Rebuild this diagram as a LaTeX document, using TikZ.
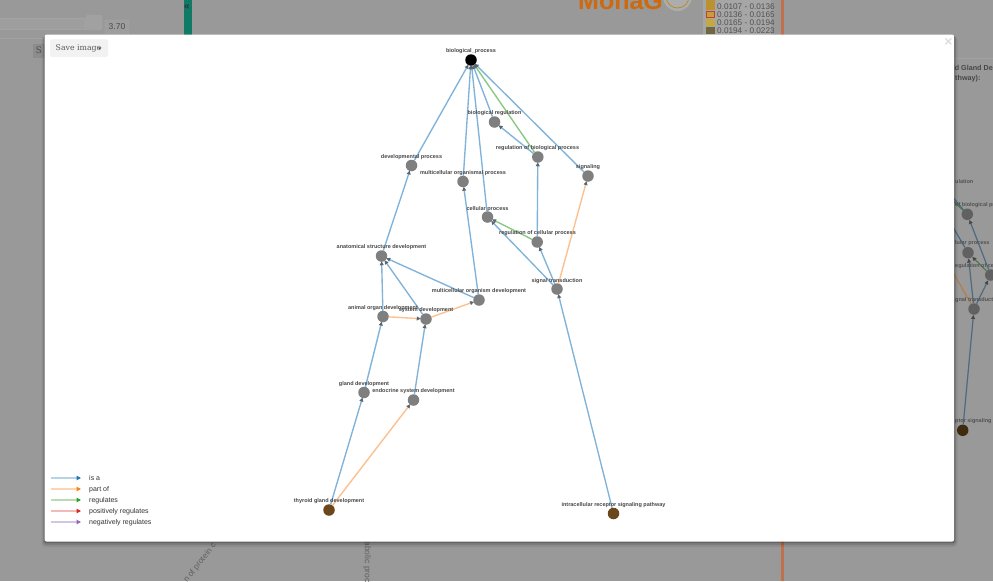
\documentclass[tikz,border=0pt]{standalone}
\usepackage{fontspec}
\setmainfont{Liberation Sans}
\newfontfamily\slabfont{DejaVu Serif}
\usetikzlibrary{arrows.meta}
\definecolor{pagegray}{HTML}{999999}
\definecolor{isa}{HTML}{7FB3D9}
\definecolor{partof}{HTML}{FDBF8C}
\definecolor{regul}{HTML}{86C97F}
\definecolor{gonode}{HTML}{7F7F7F}
\definecolor{leaf}{HTML}{6B4719}
\definecolor{tipc}{HTML}{5A6670}
\definecolor{tealbar}{HTML}{0F7A65}
\definecolor{orangebar}{HTML}{C0704C}
\definecolor{logoc}{HTML}{CD690F}
\definecolor{miniblue}{HTML}{4C6B82}
\definecolor{minigreen}{HTML}{51794C}
\definecolor{miniorange}{HTML}{B07F4E}
\definecolor{minileaf}{HTML}{402B0F}
\tikzset{
  x=1pt,y=-1pt,
  gocircle/.style={circle,fill=gonode,draw=none,minimum size=11.5pt,inner sep=0pt,outer sep=0pt},
  leafcircle/.style={gocircle,fill=leaf},
  rootcircle/.style={gocircle,fill=black},
  golabel/.style={font=\fontsize{5.5}{6}\selectfont\bfseries,text=black!72,inner sep=0pt,text height=4pt,text depth=1.2pt,yshift=-1pt},
  edgebase/.style={line width=1.35pt,shorten >=-0.5pt,-{Triangle[length=4pt,width=3.8pt,fill=tipc,color=tipc]}},
  isaedge/.style={edgebase,draw=isa},
  partedge/.style={edgebase,draw=partof},
  regedge/.style={edgebase,draw=regul},
  legtext/.style={font=\fontsize{7}{8}\selectfont,text=black!80,anchor=west,inner sep=0pt,text height=5.2pt,text depth=1.5pt},
  legline/.style={line width=1.2pt},
  minicircle/.style={circle,draw=none,fill=black!62,minimum size=11.5pt,inner sep=0pt},
  minilabel/.style={font=\fontsize{5.5}{6}\selectfont\bfseries,text=black!68,inner sep=0pt,anchor=west,text height=4pt,text depth=1.2pt},
  miniedge/.style={line width=1.2pt,draw=#1},
  minitip/.style={-{Triangle[length=4pt,width=3.8pt,fill=black!72,color=black!72]}},
  swatch/.style={draw=none,minimum width=9pt,minimum height=7.5pt,inner sep=0pt},
  swtext/.style={font=\fontsize{8.2}{9}\selectfont,text=black!68,inner sep=0pt,anchor=west},
}
\begin{document}
\begin{tikzpicture}
\useasboundingbox (0,0) rectangle (993,581);
\fill[pagegray] (0,0) rectangle (993,581);

% ---- dimmed page behind the dialog
\fill[black!37] (0,37.5) rectangle (183,38.2);
\fill[black!36] (0,18) rectangle (86,30);
\fill[black!38] (0,19) rectangle (85,29);
\node[draw=black!36,fill=black!37,rounded corners=1.5pt,minimum width=16pt,minimum height=15pt,inner sep=0pt] (knob) at (94,22.5) {};
\node[draw=black!35,fill=black!38,rounded corners=1pt,minimum width=24pt,minimum height=14pt,inner sep=0pt,text=black!70,font=\fontsize{8.5}{9}\selectfont] (valbox) at (117,27) {3.70};
\node[fill=black!45,text=black!70,minimum width=12pt,minimum height=14pt,inner sep=0pt,font=\fontsize{9}{10}\slabfont] (sbtn) at (39,50.5) {S};
\fill[tealbar] (183.5,0) rectangle (191.5,36);
\node[font=\fontsize{10}{10}\selectfont\bfseries,text=black!80,inner sep=0pt] (collapse) at (187,7.5) {«};
\fill[orangebar] (781,0) rectangle (784,581);

% logo
\node[font=\fontsize{25}{25}\selectfont\bfseries,text=logoc,anchor=base west,inner sep=0pt] (logo) at (578,9.5) {MonaG};
\definecolor{wheelc}{HTML}{A9B0A5}
\definecolor{wheelr}{HTML}{B9892F}
\draw[line width=1pt,draw=wheelc,fill=black!32] (677.5,-3.5) circle[radius=14];
\draw[line width=0.8pt,draw=wheelr] (677.5,-3.5) circle[radius=11.5];

% p-value legend
\fill[black!35] (703,0) rectangle (771,35);
\definecolor{swa}{HTML}{BA9230}
\definecolor{swb}{HTML}{C4A03C}
\definecolor{swc}{HTML}{C4A840}
\definecolor{swd}{HTML}{706741}
\definecolor{swr}{HTML}{C83C32}
\node[swatch,fill=swa] (s0) at (710.5,-1) {};
\node[swatch,fill=swa] (s1) at (710.5,6.3) {};
\node[swatch,draw=swr,line width=1pt,fill=swb,minimum width=7.5pt,minimum height=6pt] (s2) at (710.5,14.3) {};
\node[swatch,fill=swc] (s3) at (710.5,22.4) {};
\node[swatch,fill=swd] (s4) at (710.5,30.7) {};
\node[swtext] (t1) at (717,6.3) {0.0107 - 0.0136};
\node[swtext] (t2) at (717,14.3) {0.0136 - 0.0165};
\node[swtext] (t3) at (717,22.4) {0.0165 - 0.0194};
\node[swtext] (t4) at (717,30.7) {0.0194 - 0.0223};

% page text at right
\fill[black!37] (955,57.5) rectangle (993,58.1);
\node[font=\fontsize{7.2}{8}\selectfont\bfseries,text=black!72,anchor=east,inner sep=0pt] (ptxt1) at (993,68) {id Gland De};
\node[font=\fontsize{7.2}{8}\selectfont\bfseries,text=black!72,anchor=west,inner sep=0pt] (ptxt2) at (955,79) {thway):};

% rotated page text
\node[font=\fontsize{8.2}{9}\selectfont,text=black!62,rotate=52,inner sep=0pt] (rot1) at (200,563) {n of protein c};
\node[font=\fontsize{8.5}{9}\selectfont,text=black!62,rotate=-90,inner sep=0pt] (rot2) at (367,562) {abolic proc};

% miniature graph of the page
\node[minicircle] (m1) at (967.3,214.3) {};
\node[minicircle] (m2) at (968,252.7) {};
\node[minicircle] (m3) at (990.7,275) {};
\node[minicircle] (m4) at (974,309) {};
\node[minicircle,fill=minileaf] (m5) at (962.7,430.3) {};
\coordinate (mA) at (950,198);
\coordinate (mA2) at (950,194);
\coordinate (mB) at (950,222);
\coordinate (mC) at (950,267);
\draw[miniedge=miniblue,minitip] (m5) -- (m4);
\draw[miniedge=miniblue,minitip] (m4) -- (m2);
\draw[miniedge=miniblue,minitip] (m4) -- (m3);
\draw[miniedge=miniblue,minitip] (m3) -- (m1);
\draw[miniedge=minigreen,minitip] (m3) -- (m2);
\draw[miniedge=minigreen] (m1) -- (mA);
\draw[miniedge=miniblue] (m1) -- (mA2);
\draw[miniedge=miniblue] (m2) -- (mB);
\draw[miniedge=miniorange] (m4) -- (mC);
\node[minilabel] (ml1) at (955,182) {ulation};
\node[minilabel] (ml2) at (955,205) {of biological process};
\node[minilabel] (ml3) at (955,243.5) {lular process};
\node[minilabel] (ml4) at (955,266) {egulation of cellular};
\node[minilabel] (ml5) at (955,300) {gnal transduction};
\node[minilabel] (ml6) at (955,421) {ptor signaling};

% ---- dialog
\fill[black,opacity=0.07,rounded corners=4pt] (41.5,36) rectangle (957.5,547);
\fill[black,opacity=0.12,rounded corners=3pt] (43,36) rectangle (956,545);
\fill[black,opacity=0.20,rounded corners=2pt] (44,35) rectangle (955,543);
\fill[white,rounded corners=2pt] (44.5,34.7) rectangle (954.2,541.5);
\node[fill=black!5,rounded corners=1.5pt,minimum width=58pt,minimum height=17.5pt,inner sep=0pt] (savebtn) at (79,48.2) {};
\node[font=\fontsize{7.8}{9}\slabfont,text=black!65,inner sep=0pt,anchor=west] (savetxt) at (55.5,48.6) {Save image};
\fill[black!70] (98,47.5) -- (101.5,47.5) -- (99.75,49.5) -- cycle;
\node[font=\fontsize{14}{14}\selectfont\bfseries,text=black!13,inner sep=0pt] (closex) at (948.5,42) {×};

% ---- term nodes
\node[rootcircle] (bp) at (471,60) {};
\node[gocircle] (breg) at (494.5,122) {};
\node[gocircle] (rbp) at (537.8,157) {};
\node[gocircle] (sig) at (588,176) {};
\node[gocircle] (dev) at (411.5,165.5) {};
\node[gocircle] (mop) at (463,181.5) {};
\node[gocircle] (cell) at (487.5,217) {};
\node[gocircle] (rcp) at (537.2,242) {};
\node[gocircle] (asd) at (381.5,256) {};
\node[gocircle] (st) at (557,289) {};
\node[gocircle] (mod) at (479,300) {};
\node[gocircle] (aod) at (383,316.5) {};
\node[gocircle] (sys) at (426,319) {};
\node[gocircle] (gland) at (364,392.5) {};
\node[gocircle] (endo) at (413.5,400) {};
\node[leafcircle] (thy) at (329,510) {};
\node[leafcircle] (irs) at (613.5,513.5) {};

% ---- relations
\draw[isaedge] (dev) -- (bp);
\draw[isaedge] (mop) -- (bp);
\draw[isaedge] (cell) -- (bp);
\draw[isaedge] (breg) -- (bp);
\draw[isaedge] (sig) -- (bp);
\draw[regedge] (rbp) -- (bp);
\draw[isaedge] (rbp) -- (breg);
\draw[isaedge] (rcp) -- (rbp);
\draw[regedge] (rcp) -- (cell);
\draw[isaedge] (st) -- (cell);
\draw[isaedge] (st) -- (rcp);
\draw[partedge] (st) -- (sig);
\draw[isaedge] (asd) -- (dev);
\draw[isaedge] (mod) -- (mop);
\draw[isaedge] (mod) -- (asd);
\draw[isaedge] (sys) -- (asd);
\draw[isaedge] (aod) -- (asd);
\draw[partedge] (aod) -- (sys);
\draw[partedge] (sys) -- (mod);
\draw[isaedge] (gland) -- (aod);
\draw[isaedge] (endo) -- (sys);
\draw[isaedge] (thy) -- (gland);
\draw[partedge] (thy) -- (endo);
\draw[isaedge] (irs) -- (st);

% ---- term labels
\node[golabel] (lbp) at (471,50.5) {biological\_process};
\node[golabel] (lbreg) at (494.5,112.5) {biological regulation};
\node[golabel] (lrbp) at (537.5,147.5) {regulation of biological process};
\node[golabel] (lsig) at (588,166.5) {signaling};
\node[golabel] (ldev) at (411.5,156) {developmental process};
\node[golabel] (lmop) at (463,172) {multicellular organismal process};
\node[golabel] (lcell) at (487.5,208) {cellular process};
\node[golabel] (lrcp) at (537.5,232.5) {regulation of cellular process};
\node[golabel] (lasd) at (381.5,246.5) {anatomical structure development};
\node[golabel] (lst) at (557,280) {signal transduction};
\node[golabel] (lmod) at (479,290.5) {multicellular organism development};
\node[golabel] (laod) at (383,307) {animal organ development};
\node[golabel] (lsys) at (426,309.5) {system development};
\node[golabel] (lgland) at (364,383) {gland development};
\node[golabel] (lendo) at (413.5,390.5) {endocrine system development};
\node[golabel] (lthy) at (329,500.5) {thyroid gland development};
\node[golabel] (lirs) at (613.5,504) {intracellular receptor signaling pathway};

% ---- relation legend
\definecolor{ka}{HTML}{B5D3E9}\definecolor{kA}{HTML}{1F77B4}
\definecolor{kb}{HTML}{FED5B3}\definecolor{kB}{HTML}{FF7F0E}
\definecolor{kc}{HTML}{B7DEB3}\definecolor{kC}{HTML}{2CA02C}
\definecolor{kd}{HTML}{F5B8B8}\definecolor{kD}{HTML}{D62728}
\definecolor{ke}{HTML}{D3C6E5}\definecolor{kE}{HTML}{9467BD}
\node[legtext] (k1) at (89,478.3) {is a};
\node[legtext] (k2) at (89,489.3) {part of};
\node[legtext] (k3) at (89,500.3) {regulates};
\node[legtext] (k4) at (89,511.5) {positively regulates};
\node[legtext] (k5) at (89,522.3) {negatively regulates};
\coordinate (a1) at (51,478); \coordinate (b1) at (81,478);
\coordinate (a2) at (51,489); \coordinate (b2) at (81,489);
\coordinate (a3) at (51,500); \coordinate (b3) at (81,500);
\coordinate (a4) at (51,511); \coordinate (b4) at (81,511);
\coordinate (a5) at (51,522); \coordinate (b5) at (81,522);
\draw[legline,draw=ka,-{Triangle[length=4.5pt,width=4.5pt,fill=kA,color=kA]}] (a1) -- (b1);
\draw[legline,draw=kb,-{Triangle[length=4.5pt,width=4.5pt,fill=kB,color=kB]}] (a2) -- (b2);
\draw[legline,draw=kc,-{Triangle[length=4.5pt,width=4.5pt,fill=kC,color=kC]}] (a3) -- (b3);
\draw[legline,draw=kd,-{Triangle[length=4.5pt,width=4.5pt,fill=kD,color=kD]}] (a4) -- (b4);
\draw[legline,draw=ke,-{Triangle[length=4.5pt,width=4.5pt,fill=kE,color=kE]}] (a5) -- (b5);
\end{tikzpicture}
\end{document}
